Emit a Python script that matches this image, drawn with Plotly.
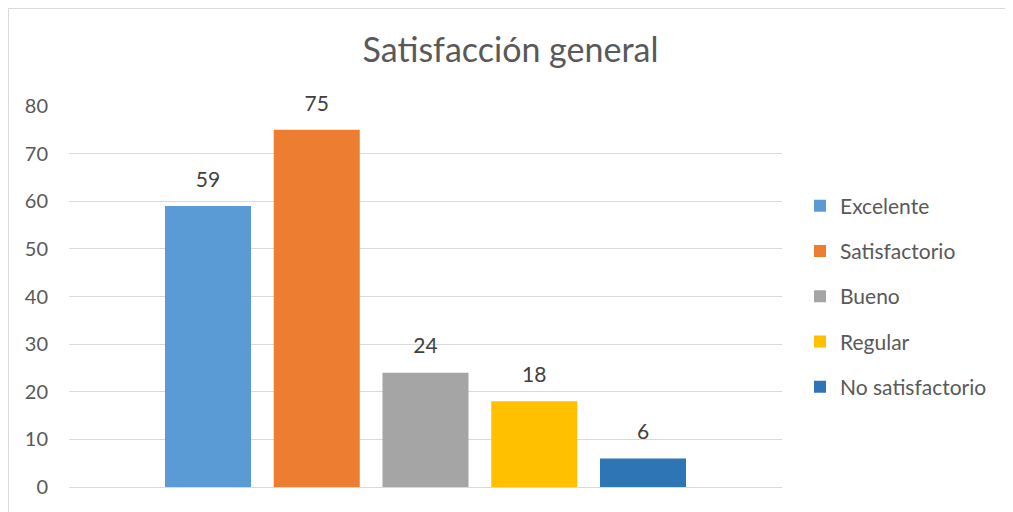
import plotly.graph_objects as go

categories = ["Excelente", "Satisfactorio", "Bueno", "Regular", "No satisfactorio"]
values = [59, 75, 24, 18, 6]
colors = ["#5B9BD5", "#ED7D31", "#A5A5A5", "#FFC000", "#2E75B6"]
y_ticks = [0, 10, 20, 30, 40, 50, 60, 70, 80]

FONT = "Lato"
W, H = 1005, 504          # page body has an 8px margin
L, R, T, B = 61, 231, 98, 25
fig = go.Figure()
for name, v, c in zip(categories, values, colors):
    fig.add_trace(go.Bar(
        x=["Satisfacción general"], y=[v], name=name, legendgroup=name,
        marker=dict(color=c, line=dict(width=0)),
        text=[str(v)], textposition="outside", cliponaxis=False,
        texttemplate="<span style='font-size:21px'>%{text}</span><br>&nbsp;",
        textfont=dict(family=FONT, size=11, color="#404040"),
    ))

pw = W - L - R
ph = H - T - B
fig.update_layout(
    width=W, height=H,
    margin=dict(l=L, r=R, t=T, b=B),
    paper_bgcolor="white", plot_bgcolor="white",
    barmode="group", bargap=0.2374, bargroupgap=0.209,
    title=dict(text="Satisfacción general", x=0.5, xanchor="center", y=1 - 42 / H,
               yanchor="middle", font=dict(family=FONT, size=34, color="#595959")),
    xaxis=dict(showticklabels=False, showgrid=False, zeroline=False, showline=False),
    yaxis=dict(range=[0, 80], tickvals=y_ticks, showgrid=True, gridcolor="#D9D9D9",
               gridwidth=1, zeroline=True, zerolinecolor="#D9D9D9", zerolinewidth=1,
               showline=False, ticks="", ticklabelstandoff=20,
               tickfont=dict(family=FONT, size=20, color="#595959")),
    legend=dict(x=(792 - L) / pw, xanchor="left", y=0.5, yanchor="middle",
                font=dict(family=FONT, size=21, color="#595959"),
                tracegroupgap=15, itemwidth=30),
    showlegend=True,
)
fig.add_shape(type="rect", xref="paper", yref="paper",
              x0=(0.5 - L) / pw, x1=1.5, y0=-0.3, y1=1 + (T - 0.5) / ph,
              line=dict(color="#D9D9D9", width=1), layer="below")
fig.write_html("out.html")
